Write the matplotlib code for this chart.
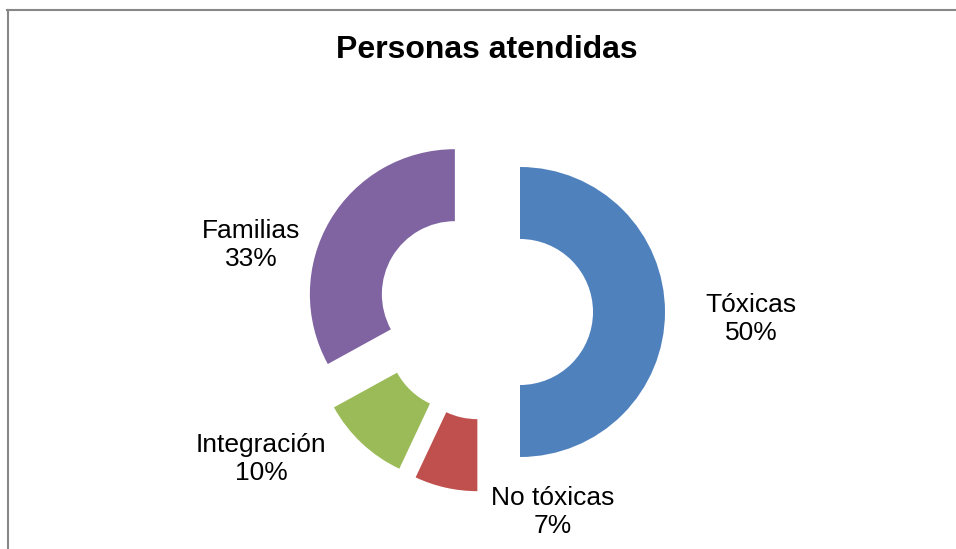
import numpy as np
import matplotlib
matplotlib.use('Agg')
import matplotlib.pyplot as plt

plt.rcParams['font.family'] = ['Liberation Sans', 'DejaVu Sans']

categories = ['Tóxicas', 'No tóxicas', 'Integración', 'Familias']
values = [50, 7, 10, 33]
colors = ['#4F81BD', '#C0504D', '#9BBB59', '#8064A2']

W, H = 956, 549
fig = plt.figure(figsize=(W / 100, H / 100), dpi=100)
ax = fig.add_axes([0, 0, 1, 1])
ax.set_xlim(0, W)
ax.set_ylim(0, H)
ax.axis('off')

# donut, every slice pulled out from the centre
cx, cy, r = 485, H - 312, 145
ax.pie(values, colors=colors, startangle=90, counterclock=False,
       center=(cx, cy), radius=r, explode=[35] * len(values),
       wedgeprops=dict(width=72, linewidth=0), frame=True)
ax.set_xlim(0, W)
ax.set_ylim(0, H)
ax.axis('off')

# data labels
pcts = ['%d%%' % v for v in values]
label_pos = [(751, 319), (553, 512), (261, 459), (251, 245)]
for name, p, (x, y) in zip(categories, pcts, label_pos):
    ax.text(x, H - y, name + '\n' + p, ha='center', va='center',
            fontsize=19, linespacing=1.2, color='black')

ax.text(487, H - 50, 'Personas atendidas', ha='center', va='center',
        fontsize=23, fontweight='bold')

# chart border (top and left visible)
fig.add_artist(plt.Line2D([7, W], [H - 10, H - 10], transform=None,
                          color='#878787', lw=1.5))
fig.add_artist(plt.Line2D([8, 8], [0, H - 10], transform=None,
                          color='#878787', lw=1.5))

fig.savefig('out.png', dpi=100)
